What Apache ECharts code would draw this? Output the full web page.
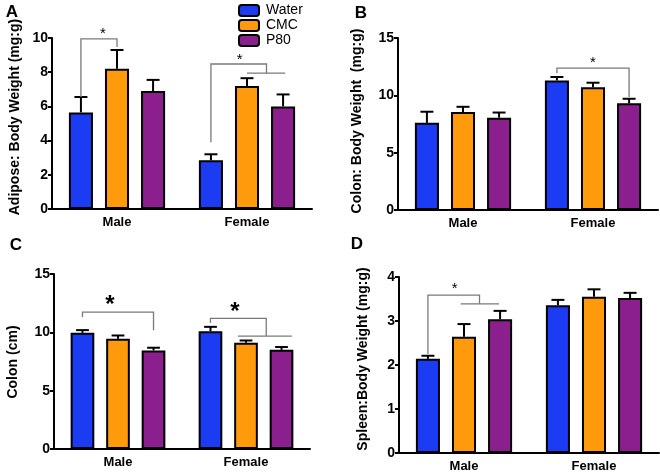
<!DOCTYPE html>
<html>
<head>
<meta charset="utf-8">
<script src="https://cdn.jsdelivr.net/npm/echarts@6/dist/echarts.min.js"></script>
<style>html,body{margin:0;padding:0;background:#fff}#c{width:660px;height:476px}</style>
</head>
<body>
<div id="c"></div>
<script>
// ---- data ----
const categories = ['Male', 'Female'];
const groups = ['Water', 'CMC', 'P80'];

// rows: Water, CMC, P80 ; columns: Male, Female
const adiposeMean = [[5.65, 2.85], [8.2, 7.2], [6.9, 6.0]];
const adiposeSEM  = [[0.9, 0.35], [1.1, 0.45], [0.65, 0.7]];
const colonWtMean = [[7.6, 11.3], [8.55, 10.7], [8.05, 9.3]];
const colonWtSEM  = [[0.97, 0.3], [0.45, 0.4], [0.45, 0.4]];
const colonLenMean = [[9.96, 10.1], [9.45, 9.1], [8.45, 8.5]];
const colonLenSEM  = [[0.23, 0.37], [0.28, 0.2], [0.23, 0.24]];
const spleenMean = [[2.14, 3.36], [2.64, 3.55], [3.04, 3.52]];
const spleenSEM  = [[0.07, 0.12], [0.29, 0.17], [0.19, 0.12]];

// significance brackets (value space):
// [category, leftBar, leftEnd, rightBar, rightEnd, level, subFrom, subTo, starBar, starValue]
const adiposeBrackets = [[0, 0, 6.55, 1, 9.47, 9.95, -1, -1, 0.61, 10.25], [1, 0, 3.9, 1.54, 7.95, 8.48, 1, 2.06, 0.8, 8.75]];
const colonWtBrackets = [[1, 0, 11.92, 2, 9.85, 12.38, -1, -1, 1, 12.8]];
const colonLenBrackets = [[0, 0, 11.3, 2, 10.17, 11.73, -1, -1, 0.77, 12.3], [1, 0, 10.79, 1.57, 9.68, 11.19, 0.77, 2.29, 0.69, 11.75]];
const spleenBrackets = [[0, 0, 2.25, 1.43, 3.39, 3.59, 0.91, 1.97, 0.74, 3.73]];

const yMax = [10, 15, 15, 4];
const yInterval = [2, 5, 5, 1];
const yTitles = ['Adipose: Body Weight (mg:g)', 'Colon: Body Weight  (mg:g)', 'Colon (cm)', 'Spleen:Body Weight (mg:g)'];
const panelLetters = ['A', 'B', 'C', 'D'];

// ---- style / layout ----
const COLORS = ['#1c3cf4', '#ff9a0c', '#8c1f8e'];
const CAT_GAP = 0.26, BAR_GAP = 0.5;
const FONT = '"Liberation Sans", Arial, sans-serif';
const grids = [
  {left: 52, top: 38, width: 260, height: 171},
  {left: 398, top: 38, width: 260, height: 172},
  {left: 54, top: 274, width: 256, height: 175},
  {left: 399, top: 277, width: 260, height: 176}
];
const starFont = ['normal 15px ' + FONT, 'normal 15px ' + FONT, 'bold 24px ' + FONT, 'normal 15px ' + FONT];
const titlePos = [[15, 117], [357, 121], [13, 362], [363, 359]];
const letterPos = [[12, 12], [361, 13], [16, 245], [357, 244]];

const means = [adiposeMean, colonWtMean, colonLenMean, spleenMean];
const sems = [adiposeSEM, colonWtSEM, colonLenSEM, spleenSEM];
const brackets = [adiposeBrackets, colonWtBrackets, colonLenBrackets, spleenBrackets];

function barGeom(api, cat, bi) {
  const c = api.coord([cat, 0])[0];
  const bw = api.size([1, 0])[0];
  const usable = bw * (1 - CAT_GAP);
  const w = usable / (3 + 2 * BAR_GAP);
  return {x: c - usable / 2 + w / 2 + bi * w * (1 + BAR_GAP), w: w};
}

const xAxes = [], yAxes = [], series = [], graphics = [];
for (let p = 0; p < 4; p++) {
  xAxes.push({
    type: 'category', gridIndex: p, data: categories,
    axisLine: {lineStyle: {color: '#000', width: 2}},
    axisTick: {alignWithLabel: true, length: 5, lineStyle: {color: '#000', width: 2}},
    axisLabel: {color: '#000', fontWeight: 'bold', fontSize: 13, fontFamily: FONT, margin: 7}
  });
  yAxes.push({
    type: 'value', gridIndex: p, min: 0, max: yMax[p], interval: yInterval[p],
    splitLine: {show: false},
    axisLine: {show: true, lineStyle: {color: '#000', width: 2}},
    axisTick: {show: true, length: 4, lineStyle: {color: '#000', width: 2}},
    axisLabel: {color: '#000', fontWeight: 'bold', fontSize: 14, fontFamily: FONT, margin: 4}
  });
  for (let g = 0; g < 3; g++) {
    series.push({
      type: 'bar', name: groups[g], xAxisIndex: p, yAxisIndex: p,
      data: means[p][g], barGap: (BAR_GAP * 100) + '%', barCategoryGap: (CAT_GAP * 100) + '%',
      itemStyle: {color: COLORS[g], borderColor: '#000', borderWidth: 2},
      emphasis: {disabled: true}, z: 2
    });
  }
  const errData = [];
  for (let g = 0; g < 3; g++) {
    for (let c = 0; c < categories.length; c++) {
      errData.push([c, g, means[p][g][c], means[p][g][c] + sems[p][g][c]]);
    }
  }
  series.push({
    type: 'custom', xAxisIndex: p, yAxisIndex: p, data: errData, z: 3, silent: true,
    encode: {x: 0, y: 3},
    renderItem: function (params, api) {
      const cat = api.value(0), g = api.value(1);
      const geo = barGeom(api, cat, g);
      const y0 = api.coord([cat, api.value(2)])[1];
      const y1 = api.coord([cat, api.value(3)])[1];
      const hw = geo.w * 0.27;
      return {type: 'group', children: [
        {type: 'line', shape: {x1: geo.x, y1: y0, x2: geo.x, y2: y1}, style: {stroke: '#000', lineWidth: 2}},
        {type: 'line', shape: {x1: geo.x - hw, y1: y1, x2: geo.x + hw, y2: y1}, style: {stroke: '#000', lineWidth: 2}}
      ]};
    }
  });
  const sf = starFont[p];
  series.push({
    type: 'custom', xAxisIndex: p, yAxisIndex: p, data: brackets[p], z: 4, silent: true, clip: false,
    encode: {x: 0, y: 5},
    renderItem: function (params, api) {
      const cat = api.value(0);
      const xl = barGeom(api, cat, api.value(1)).x;
      const xr = barGeom(api, cat, api.value(3)).x;
      const yl = api.coord([cat, api.value(2)])[1];
      const yr = api.coord([cat, api.value(4)])[1];
      const yv = api.coord([cat, api.value(5)])[1];
      const st = {stroke: '#7a7a7a', lineWidth: 1.3, fill: null};
      const children = [{type: 'polyline', shape: {points: [[xl, yl], [xl, yv], [xr, yv], [xr, yr]]}, style: st}];
      if (api.value(6) >= 0) {
        const xa = barGeom(api, cat, api.value(6)).x;
        const xb = barGeom(api, cat, api.value(7)).x;
        children.push({type: 'line', shape: {x1: xa, y1: yr, x2: xb, y2: yr}, style: st});
      }
      const xs = barGeom(api, cat, api.value(8)).x;
      const ys = api.coord([cat, api.value(9)])[1];
      children.push({type: 'text', style: {text: '*', x: xs, y: ys, textAlign: 'center', textVerticalAlign: 'middle', font: sf, fill: '#000'}});
      return {type: 'group', children: children};
    }
  });
  graphics.push({
    type: 'text', x: titlePos[p][0], y: titlePos[p][1], rotation: Math.PI / 2,
    style: {text: yTitles[p], font: 'bold 14px ' + FONT, fill: '#000', textAlign: 'center', textVerticalAlign: 'middle'}
  });
  graphics.push({
    type: 'text', x: letterPos[p][0], y: letterPos[p][1],
    style: {text: panelLetters[p], font: 'bold 17px ' + FONT, fill: '#000', textAlign: 'center', textVerticalAlign: 'middle'}
  });
}

const chart = echarts.init(document.getElementById('c'), null, {renderer: 'canvas'});
chart.setOption({
  animation: false,
  backgroundColor: '#fff',
  grid: grids,
  xAxis: xAxes,
  yAxis: yAxes,
  legend: {
    data: groups, orient: 'vertical', left: 233, top: -2, itemWidth: 20, itemHeight: 11, itemGap: 0,
    selectedMode: false,
    itemStyle: {borderColor: '#000', borderWidth: 2},
    textStyle: {color: '#000', fontSize: 14, fontFamily: FONT, lineHeight: 15, padding: [0, 0, 0, 2]}
  },
  series: series,
  graphic: graphics
});
</script>
</body>
</html>
